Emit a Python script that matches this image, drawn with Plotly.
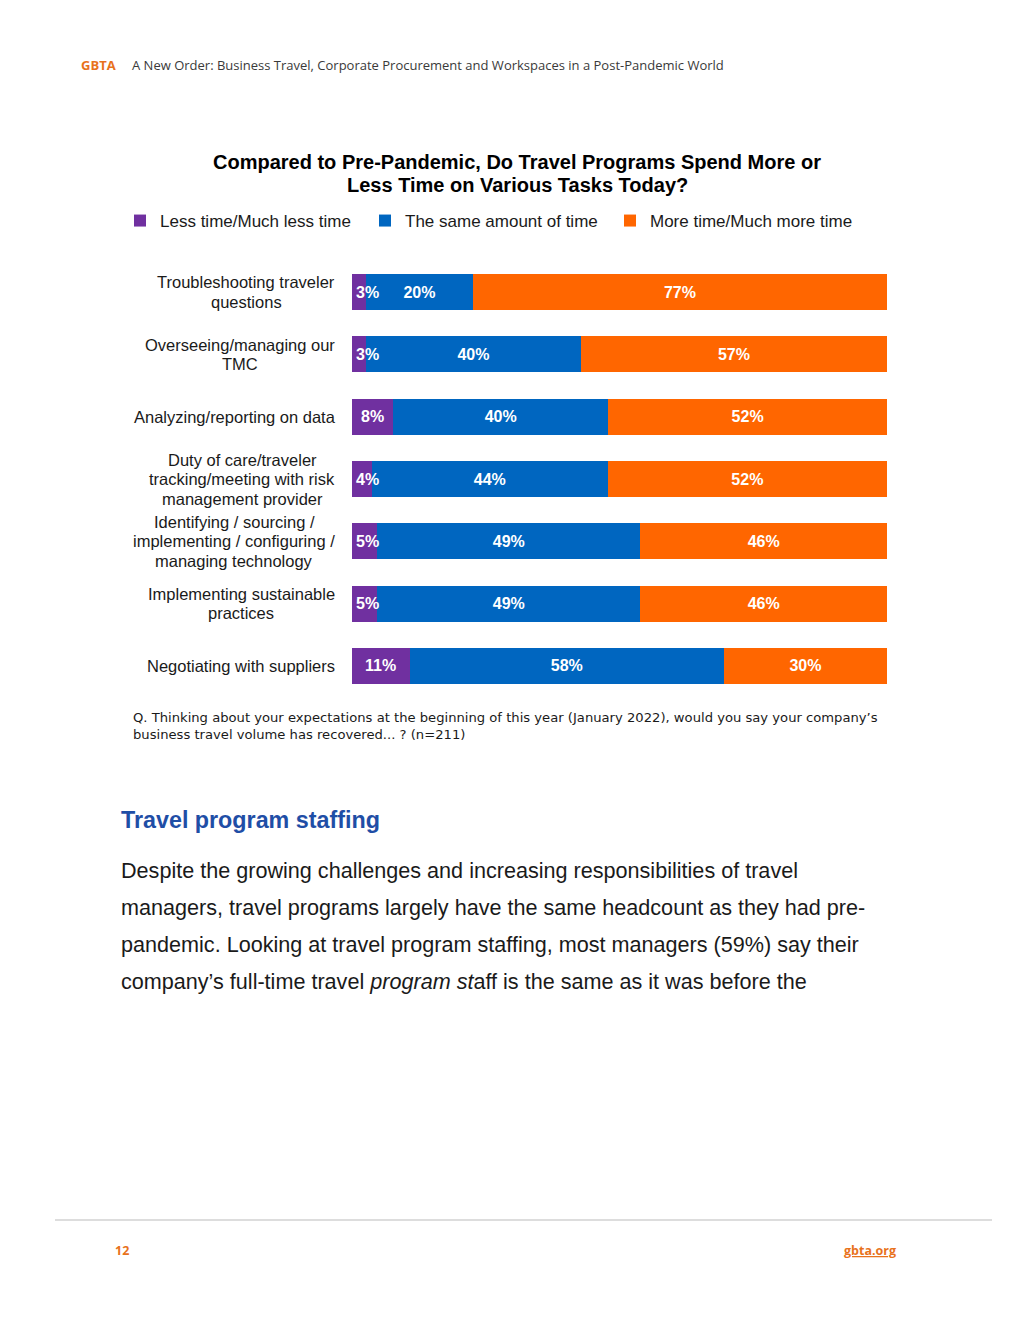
import plotly.graph_objects as go

categories = [
    "Troubleshooting traveler<br>questions",
    "Overseeing/managing our<br>TMC",
    "Analyzing/reporting on data",
    "Duty of care/traveler<br>tracking/meeting with risk<br>management provider",
    "Identifying / sourcing /<br>implementing / configuring /<br>managing technology",
    "Implementing sustainable<br>practices",
    "Negotiating with suppliers",
]
series_names = ["Less time/Much less time", "The same amount of time", "More time/Much more time"]
less_vals = [2.6, 2.6, 7.7, 3.7, 4.7, 4.7, 10.8]
same_vals = [20.0, 40.2, 40.2, 44.1, 49.2, 49.2, 58.7]
more_vals = [77.4, 57.2, 52.1, 52.2, 46.1, 46.1, 30.5]
less_labels = ["3%", "3%", "8%", "4%", "5%", "5%", "11%"]
same_labels = ["20%", "40%", "40%", "44%", "49%", "49%", "58%"]
more_labels = ["77%", "57%", "52%", "52%", "46%", "46%", "30%"]
colors = ["#7030A0", "#0066C0", "#FF6600"]

W, H = 1020, 1320
OFF = 8  # page body offset
L, R, T, B = 352 - OFF, 887 - OFF, 261 - OFF, 697 - OFF


def px(x):
    return (x - OFF - L) / (R - L)


def py(y):
    return (B - (y - OFF)) / (B - T)


label_font = dict(family="Liberation Sans", size=16, color="white", weight="bold")

fig = go.Figure()
for i, (name, vals, labels, col) in enumerate(zip(series_names, [less_vals, same_vals, more_vals],
                                                   [less_labels, same_labels, more_labels], colors)):
    fig.add_trace(go.Bar(
        y=categories, x=vals, name=name, orientation="h",
        marker=dict(color=col, line=dict(width=0)),
        text=None if i == 0 else labels,
        textposition="inside", insidetextanchor="middle", textangle=0,
        textfont=label_font,
        hoverinfo="skip",
    ))

ann = []
# labels for the narrow purple segments, drawn on top so they can overflow
for c, v, t in zip(categories, less_vals, less_labels):
    ann.append(dict(x=max(v / 2, 2.9), xref="x", y=c, yref="y", text="<b>" + t + "</b>",
                    showarrow=False, xanchor="center", yanchor="middle",
                    font=dict(family="Liberation Sans", size=16, color="white")))

# category labels (one annotation per line for tight line spacing)
block_centers = [246, 240, 235, 242, 234, 241, 241]
for j, c in enumerate(categories):
    lines = c.split("<br>")
    n = len(lines)
    for k, ln in enumerate(lines):
        ann.append(dict(x=px(block_centers[j]), xref="paper", y=c, yref="y", text=ln, showarrow=False,
                        xanchor="center", yanchor="middle", align="center",
                        font=dict(family="Liberation Sans", size=16.5, color="#1a1a1a"),
                        yshift=-(k - (n - 1) / 2) * 19.5))

# page header
ann.append(dict(x=px(79), y=py(65), xref="paper", yref="paper", text="<b>GBTA</b>", showarrow=False,
                xanchor="left", yanchor="middle", font=dict(family="Open Sans", size=13, color="#E8721C")))
ann.append(dict(x=px(130), y=py(65), xref="paper", yref="paper",
                text="A New Order: Business Travel, Corporate Procurement and Workspaces in a Post-Pandemic World",
                showarrow=False, xanchor="left", yanchor="middle",
                font=dict(family="Open Sans", size=13, color="#3a3a3a")))
# chart title
for k, t in enumerate(["Compared to Pre-Pandemic, Do Travel Programs Spend More or",
                       "Less Time on Various Tasks Today?"]):
    ann.append(dict(x=px(517), y=py(162 + 23 * k), xref="paper", yref="paper",
                    text="<b>" + t + "</b>",
                    showarrow=False, xanchor="center", yanchor="middle", align="center",
                    font=dict(family="Liberation Sans", size=20, color="black")))
# footnote
ann.append(dict(x=px(131), y=py(726), xref="paper", yref="paper",
                text="Q. Thinking about your expectations at the beginning of this year (January 2022), would you say your company\u2019s<br>business travel volume has recovered... ? (n=211)",
                showarrow=False, xanchor="left", yanchor="middle", align="left",
                font=dict(family="DejaVu Sans", size=13.15, color="#1a1a1a")))
# section heading
ann.append(dict(x=px(119), y=py(820), xref="paper", yref="paper", text="<b>Travel program staffing</b>",
                showarrow=False, xanchor="left", yanchor="middle",
                font=dict(family="Liberation Sans", size=23.3, color="#1F4EA6")))
body_lines = [
    "Despite the growing challenges and increasing responsibilities of travel",
    "managers, travel programs largely have the same headcount as they had pre-",
    "pandemic. Looking at travel program staffing, most managers (59%) say their",
    "company\u2019s full-time travel <i>program st</i>aff is the same as it was before the",
]
for i, line in enumerate(body_lines):
    ann.append(dict(x=px(119), y=py(870 + i * 37.3), xref="paper", yref="paper", text=line,
                    showarrow=False, xanchor="left", yanchor="middle",
                    font=dict(family="Liberation Sans", size=21.6, color="#1a1a1a")))
# footer
ann.append(dict(x=px(113), y=py(1250), xref="paper", yref="paper", text="<b>12</b>",
                showarrow=False, xanchor="left", yanchor="middle",
                font=dict(family="Open Sans", size=12.5, color="#E8721C")))
ann.append(dict(x=px(898), y=py(1250), xref="paper", yref="paper", text="<b><u>gbta.org</u></b>",
                showarrow=False, xanchor="right", yanchor="middle",
                font=dict(family="Open Sans", size=12.5, color="#E8721C")))

fig.update_layout(
    width=W, height=H,
    margin=dict(l=L, r=W - R, t=T, b=H - B, pad=0),
    paper_bgcolor="white", plot_bgcolor="white",
    barmode="stack", bargap=0.422,
    showlegend=True,
    legend=dict(orientation="h", x=px(120), y=py(221), xanchor="left", yanchor="middle",
                font=dict(family="Liberation Sans", size=17, color="#1a1a1a"),
                entrywidth=200, entrywidthmode="pixels", traceorder="normal",
                itemclick=False, itemdoubleclick=False),
    uniformtext=dict(minsize=16, mode="show"),
    xaxis=dict(range=[0, 100], visible=False, fixedrange=True),
    yaxis=dict(autorange="reversed", showticklabels=False, showgrid=False, zeroline=False,
               showline=False, ticks="", fixedrange=True),
    annotations=ann,
    shapes=[dict(type="line", xref="paper", yref="paper", x0=px(55), x1=px(992),
                 y0=py(1220), y1=py(1220), line=dict(color="#BBBBBB", width=1.2))],
)

fig.write_html("out.html", config={"displayModeBar": False})
